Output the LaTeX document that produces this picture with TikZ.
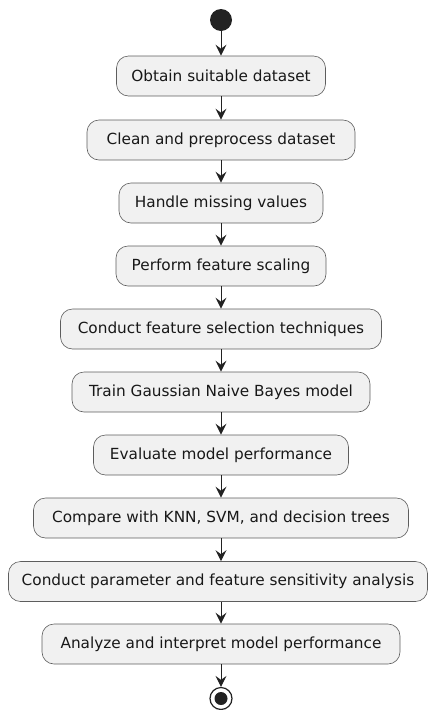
\documentclass[tikz,border=0pt]{standalone}
\usepackage{fontspec}
\setmainfont{DejaVu Sans}
\usetikzlibrary{arrows.meta}
\definecolor{boxfill}{HTML}{F1F1F1}
\definecolor{boxline}{HTML}{181818}
\definecolor{dark}{HTML}{222222}
\begin{document}
\begin{tikzpicture}[x=1pt,y=-1pt,
  act/.style={draw=boxline!70, fill=boxfill, line width=0.6pt, rounded corners=12pt,
    minimum height=40pt, inner sep=0pt, font=\fontsize{15.3}{18}\selectfont, text=boxline},
  flow/.style={draw=dark, line width=1pt, -{Stealth[length=11pt,width=11pt,inset=4pt]}}]
\useasboundingbox (0,0) rectangle (428,710);
\node[circle, fill=dark, minimum size=22pt, inner sep=0pt] (start) at (221,20) {};
\node[act, minimum width=209pt] (b1) at (221,76) {Obtain suitable dataset};
\node[act, minimum width=268pt] (b2) at (221,140) {Clean and preprocess dataset};
\node[act, minimum width=204pt] (b3) at (221,203) {Handle missing values};
\node[act, minimum width=210pt] (b4) at (221,266) {Perform feature scaling};
\node[act, minimum width=321pt] (b5) at (221,329) {Conduct feature selection techniques};
\node[act, minimum width=298pt] (b6) at (221,392) {Train Gaussian Naive Bayes model};
\node[act, minimum width=255pt] (b7) at (221,455) {Evaluate model performance};
\node[act, minimum width=375pt] (b8) at (221,518) {Compare with KNN, SVM, and decision trees};
\node[act, minimum width=419pt] (b9) at (218,581.5) {Conduct parameter and feature sensitivity analysis};
\node[act, minimum width=358pt] (b10) at (221,644) {Analyze and interpret model performance};
\node[circle, draw=dark, line width=1.2pt, fill=white, minimum size=22pt, inner sep=0pt] (stop) at (221,698.5) {};
\fill[dark] (stop.center) circle (6.5pt);
\draw[flow] (start) -- (b1);
\draw[flow] (b1) -- (b2);
\draw[flow] (b2) -- (b3);
\draw[flow] (b3) -- (b4);
\draw[flow] (b4) -- (b5);
\draw[flow] (b5) -- (b6);
\draw[flow] (b6) -- (b7);
\draw[flow] (b7) -- (b8);
\draw[flow] (b8.south -| b7.south) -- (b9.north -| b7.south);
\draw[flow] (b9.south -| b7.south) -- (b10.north -| b7.south);
\draw[flow] (b10) -- (stop);
\end{tikzpicture}
\end{document}
